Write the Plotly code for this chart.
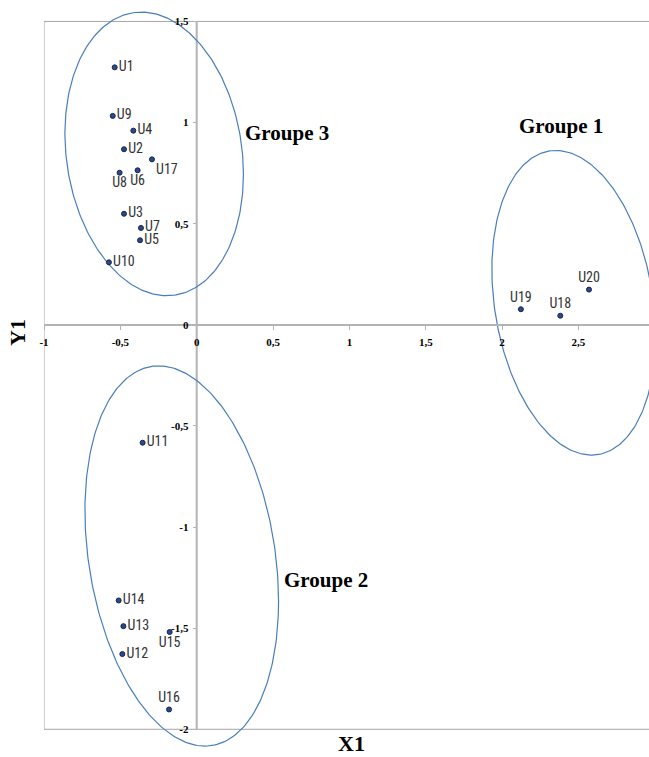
import numpy as np
import plotly.graph_objects as go

# ---- data ----
labels = ["U1", "U9", "U4", "U2", "U17", "U6", "U8", "U3", "U7", "U5", "U10",
          "U19", "U18", "U20",
          "U11", "U14", "U13", "U15", "U12", "U16"]
x1 = [-0.537, -0.550, -0.415, -0.476, -0.293, -0.387, -0.505, -0.476, -0.365, -0.371, -0.575,
      2.123, 2.381, 2.569,
      -0.354, -0.511, -0.480, -0.177, -0.487, -0.181]
y1 = [1.273, 1.033, 0.960, 0.868, 0.818, 0.764, 0.752, 0.549, 0.479, 0.418, 0.309,
      0.077, 0.045, 0.174,
      -0.583, -1.363, -1.490, -1.519, -1.628, -1.902]

x_tickvals = [-1, -0.5, 0, 0.5, 1, 1.5, 2, 2.5]
x_ticktext = ["-1", "-0,5", "0", "0,5", "1", "1,5", "2", "2,5"]
y_tickvals = [-2, -1.5, -1, -0.5, 0, 0.5, 1, 1.5]
y_ticktext = ["-2", "-1,5", "-1", "-0,5", "0", "0,5", "1", "1,5"]

groups = ["Groupe 1", "Groupe 2", "Groupe 3"]
# ellipse: centre x, centre y, half-width x, half-height y, correlation (tilt)
ellipses = {
    "Groupe 1": (2.469, 0.109, 0.536, 0.753, -0.218),
    "Groupe 2": (-0.098, -1.143, 0.634, 0.940, -0.238),
    "Groupe 3": (-0.2785, 0.845, 0.5845, 0.701, -0.1435),
}
group_label_pos = {
    "Groupe 1": (2.385, 0.983),
    "Groupe 2": (0.849, -1.262),
    "Groupe 3": (0.590, 0.949),
}

# label placement (style)
pos_map = {"U8": "bottom center", "U6": "bottom center", "U15": "bottom center",
           "U16": "top center", "U18": "top center", "U19": "top center",
           "U20": "top center", "U17": "bottom right"}
textpos = [pos_map.get(l, "middle right") for l in labels]

XMIN, XMAX = -1, 2.962
YMIN, YMAX = -2.137, 1.606
AX = "#b4b4b4"

fig = go.Figure()

t = np.linspace(0, 2 * np.pi, 300)
for g in groups:
    cx, cy, rx, ry, rho = ellipses[g]
    ex = cx + rx * np.cos(t)
    ey = cy + ry * (rho * np.cos(t) + np.sqrt(1 - rho ** 2) * np.sin(t))
    fig.add_trace(go.Scatter(x=ex, y=ey, mode="lines",
                             line=dict(color="#4a7ebb", width=1.2),
                             hoverinfo="skip", showlegend=False))
    gx, gy = group_label_pos[g]
    fig.add_annotation(x=gx, y=gy, xref="x", yref="y", text=g, showarrow=False,
                       xanchor="center", yanchor="middle",
                       font=dict(family="Liberation Serif, Times New Roman, serif",
                                 size=21, color="black", weight="bold"))

fig.add_trace(go.Scatter(
    x=x1, y=y1, mode="markers+text", text=labels, textposition=textpos,
    marker=dict(size=5, color="#2a4a8c", line=dict(color="#14244a", width=1)),
    textfont=dict(family="Liberation Sans Narrow, Roboto Condensed, Open Sans, sans-serif",
                  size=14, color="#333333"),
    cliponaxis=False, showlegend=False))

# frame and y axis line
line_frame = dict(color="#a6a6a6", width=1)
fig.add_shape(type="line", xref="x", yref="y", x0=-1, x1=-1, y0=-2, y1=1.5, line=line_frame, layer="below")
fig.add_shape(type="line", xref="x", yref="y", x0=-1, x1=XMAX, y0=1.5, y1=1.5, line=line_frame, layer="below")
fig.add_shape(type="line", xref="x", yref="y", x0=-1, x1=XMAX, y0=-2, y1=-2, line=line_frame, layer="below")
fig.add_shape(type="line", xref="x", yref="y", x0=0, x1=0, y0=-2, y1=1.5,
              line=dict(color=AX, width=2), layer="below")

tickfont = dict(family="Liberation Serif, Times New Roman, serif", size=11,
                color="black", weight="bold")

fig.update_layout(
    width=649, height=757,
    margin=dict(l=44, r=0, t=0, b=0),
    paper_bgcolor="white", plot_bgcolor="white",
    xaxis=dict(range=[XMIN, XMAX], anchor="free",
               position=(0 - YMIN) / (YMAX - YMIN),
               showgrid=False, zeroline=False, showline=True, linecolor=AX, linewidth=2,
               ticks="outside", ticklen=4, tickcolor=AX, tickwidth=1,
               tickvals=x_tickvals, ticktext=x_ticktext, tickfont=tickfont,
               ticklabelstandoff=3, automargin=False),
    yaxis=dict(range=[YMIN, YMAX], anchor="free",
               position=(0 - XMIN) / (XMAX - XMIN),
               showgrid=False, zeroline=False, showline=False,
               ticks="outside", ticklen=4, tickcolor=AX, tickwidth=1,
               tickvals=y_tickvals, ticktext=y_ticktext, tickfont=tickfont,
               ticklabelstandoff=2, automargin=False),
)

fig.add_annotation(x=(351 - 44) / 605, y=1 - 743 / 757, xref="paper", yref="paper",
                   text="X1", showarrow=False, xanchor="center", yanchor="middle",
                   font=dict(family="Liberation Serif, Times New Roman, serif",
                             size=22, color="black", weight="bold"))
fig.add_annotation(x=-26 / 605, y=1 - 333 / 757, xref="paper", yref="paper",
                   text="Y1", showarrow=False, textangle=-90,
                   xanchor="center", yanchor="middle",
                   font=dict(family="Liberation Serif, Times New Roman, serif",
                             size=22, color="black", weight="bold"))

fig.write_html("out.html", config={"displayModeBar": False},
               post_script="document.body.style.margin='0';document.body.style.overflow='hidden';")
